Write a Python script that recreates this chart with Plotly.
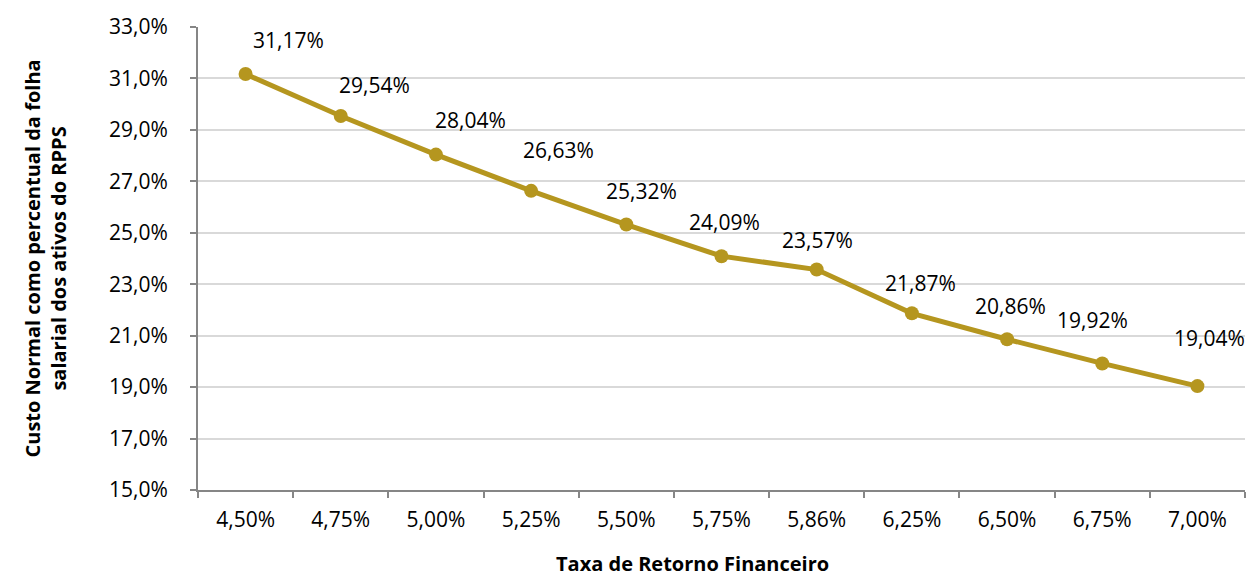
import plotly.graph_objects as go

# Taxa de retorno (eixo X) e custo normal (% da folha)
taxas = ["4,50%", "4,75%", "5,00%", "5,25%", "5,50%", "5,75%",
         "5,86%", "6,25%", "6,50%", "6,75%", "7,00%"]
custo_normal = [31.17, 29.54, 28.04, 26.63, 25.32, 24.09,
                23.57, 21.87, 20.86, 19.92, 19.04]

# deslocamento dos rótulos de dados (px)
label_dx = [43, 34, 35, 27, 15, 3, 1, 9, 3, -10, 12]
label_dy = [34, 31, 35, 41, 34, 34, 30, 30, 33, 43, 48]

COR = "#B5961F"
FONTE = "Open Sans"
W, H = 1249, 576
ML, MR, MT, MB = 198, 4, 27, 86

fig = go.Figure()
fig.add_trace(go.Scatter(
    x=taxas, y=custo_normal, mode="lines+markers",
    line=dict(color=COR, width=5),
    marker=dict(color=COR, size=14),
    hoverinfo="skip", showlegend=False,
))

def fmt(v):
    return f"{v:.2f}".replace(".", ",") + "%"

annotations = []
for x, y, dx, dy in zip(taxas, custo_normal, label_dx, label_dy):
    annotations.append(dict(
        x=x, y=y, xref="x", yref="y", text=fmt(y), showarrow=False,
        xanchor="center", yanchor="middle", xshift=dx, yshift=dy,
        font=dict(family=FONTE, size=21, color="#000000"),
    ))

plot_w = W - ML - MR
annotations.append(dict(
    text="<b>Custo Normal como percentual da folha<br>salarial dos ativos do RPPS</b>",
    xref="paper", yref="paper", x=(45 - ML) / plot_w, y=0.5,
    xanchor="center", yanchor="middle", textangle=-90, showarrow=False,
    font=dict(family=FONTE, size=20, color="#000000"),
))
annotations.append(dict(
    text="<b>Taxa de Retorno Financeiro</b>",
    xref="paper", yref="paper", x=(692 - ML) / plot_w, y=-(563 - (H - MB)) / (H - MT - MB),
    xanchor="center", yanchor="middle", showarrow=False,
    font=dict(family=FONTE, size=20, color="#000000"),
))

fig.update_layout(
    width=W, height=H,
    margin=dict(l=ML, r=MR, t=MT, b=MB, autoexpand=False),
    paper_bgcolor="white", plot_bgcolor="white",
    separators=",.",
    annotations=annotations,
    xaxis=dict(
        type="category", range=[-0.5, len(taxas) - 0.5],
        tickson="boundaries", ticks="outside", ticklen=6,
        tickcolor="#868686", tickwidth=2,
        showline=True, linecolor="#868686", linewidth=2,
        showgrid=False, ticklabelstandoff=10,
        tickfont=dict(family=FONTE, size=21, color="#000000"),
        fixedrange=True,
    ),
    yaxis=dict(
        range=[15, 33], dtick=2, tick0=15, tickformat=".1f", ticksuffix="%",
        ticks="outside", ticklen=6, tickcolor="#868686", tickwidth=2,
        showline=True, linecolor="#868686", linewidth=2,
        showgrid=True, gridcolor="#D9D9D9", gridwidth=2,
        zeroline=False, ticklabelstandoff=18,
        tickfont=dict(family=FONTE, size=21, color="#000000"),
        fixedrange=True,
    ),
)

fig.write_html("out.html")
